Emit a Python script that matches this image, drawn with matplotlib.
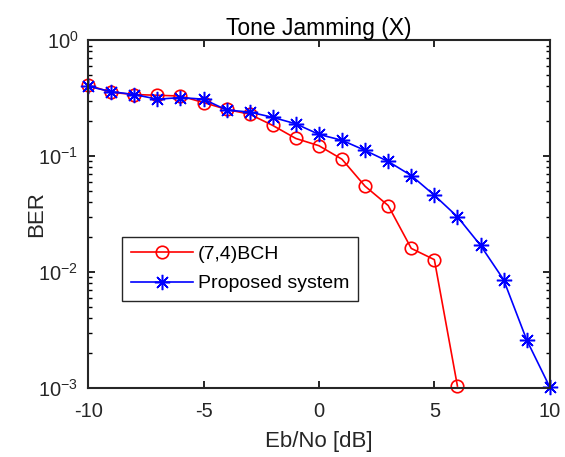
import matplotlib.pyplot as plt

plt.rcParams['font.family'] = ['Liberation Sans', 'DejaVu Sans']

ebno = [-10, -9, -8, -7, -6, -5, -4, -3, -2, -1, 0, 1, 2, 3, 4, 5, 6, 7, 8, 9, 10]
ber_bch = [0.41, 0.355, 0.34, 0.335, 0.33, 0.29, 0.253, 0.23, 0.184, 0.142, 0.123,
           0.094, 0.055, 0.0375, 0.016, 0.0128, 0.00104]
ber_prop = [0.40, 0.36, 0.34, 0.31, 0.32, 0.31, 0.25, 0.24, 0.216, 0.19, 0.154,
            0.137, 0.112, 0.09, 0.068, 0.046, 0.030, 0.017, 0.0086, 0.0026, 0.00102]

dark = '#262626'

fig = plt.figure(figsize=(5.65, 4.57), dpi=100)
ax = fig.add_axes([0.156, 0.151, 0.817, 0.761])

ax.semilogy(ebno[:len(ber_bch)], ber_bch, color='red', lw=1.2, marker='o',
            ms=9, mfc='none', mew=1.2, label='(7,4)BCH', clip_on=False)
ax.semilogy(ebno, ber_prop, color='blue', lw=1.2, marker=(8, 2, 0),
            ms=11, mew=1.1, label='Proposed system', clip_on=False)

ax.set_xlim(-10, 10)
ax.set_ylim(1e-3, 1)
ax.set_xticks([-10, -5, 0, 5, 10])
ax.set_xticklabels(['-10', '-5', '0', '5', '10'])
ax.tick_params(which='both', direction='in', top=True, right=True,
               labelsize=14.5, labelcolor=dark)
ax.tick_params(axis='x', pad=10)
ax.tick_params(axis='y', pad=7)
ax.tick_params(which='major', length=5, width=1.2)
ax.tick_params(which='minor', length=3, width=1.0)
for s in ax.spines.values():
    s.set_linewidth(1.5)
    s.set_color(dark)

ax.set_title('Tone Jamming (X)', fontsize=16.5, pad=4)
ax.set_xlabel('Eb/No [dB]', fontsize=16, color=dark, labelpad=7)
ax.set_ylabel('BER', fontsize=16, color=dark, labelpad=-6)

leg = ax.legend(loc='upper left', bbox_to_anchor=(0.074, 0.435), fontsize=14,
                fancybox=False, edgecolor=dark, framealpha=1, numpoints=1,
                handlelength=3.2, handletextpad=0.25, borderpad=0.45,
                labelspacing=0.6, borderaxespad=0)
leg.get_frame().set_linewidth(1.0)

fig.savefig('out.png', dpi=100)
